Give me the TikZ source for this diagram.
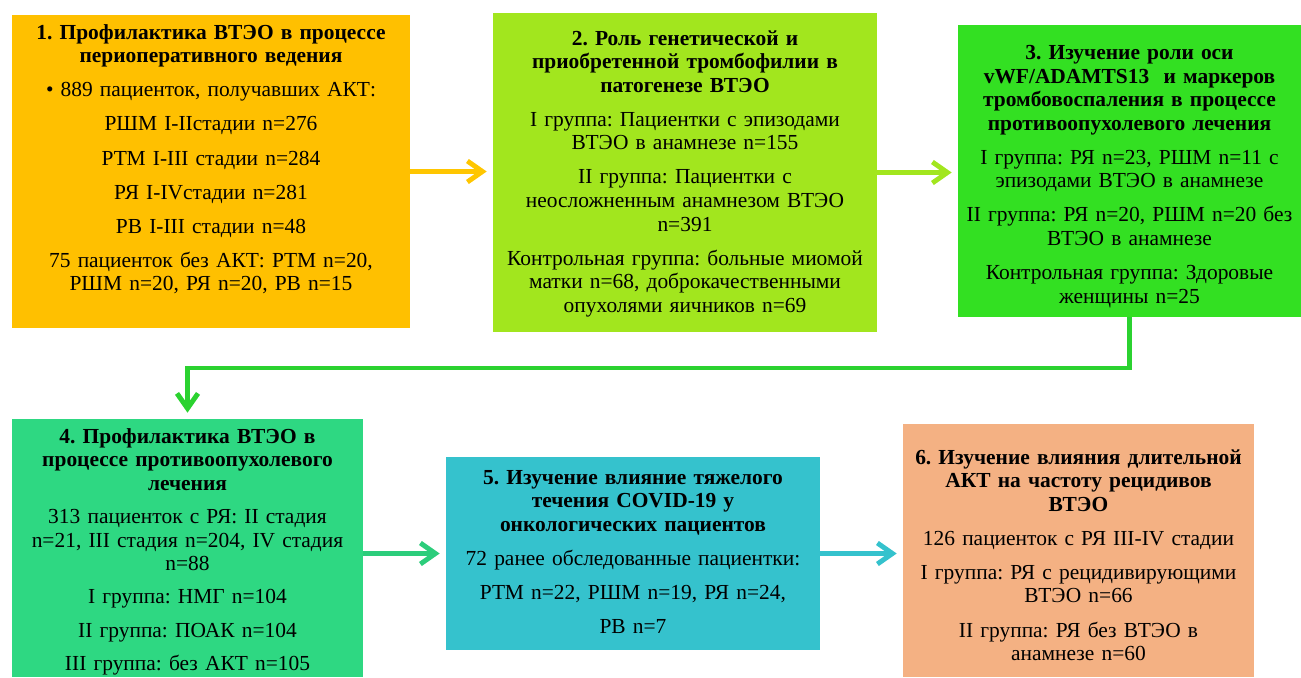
\documentclass[tikz,border=0pt]{standalone}
\usepackage{fontspec}
\setmainfont{LiberationSerif}[BoldFont={Liberation Serif Bold}]
\frenchspacing
\usetikzlibrary{arrows.meta}
\definecolor{orangeA}{HTML}{FFC000}
\definecolor{limeB}{HTML}{A2E61E}
\definecolor{greenC}{HTML}{33E022}
\definecolor{greenD}{HTML}{2ED882}
\definecolor{tealE}{HTML}{35C2CD}
\definecolor{salmonF}{HTML}{F4B183}
\begin{document}
\begin{tikzpicture}[x=0.02cm, y=-0.02cm,
  box/.style={fill=#1, inner sep=0pt},
  txt/.style={anchor=north, align=center, inner sep=0pt, font=\rmfamily\fontsize{12.2}{13.4}\selectfont},
  arr/.style={draw=#1, line width=2.8pt, -{Straight Barb[length=0.3cm, width=0.42cm]}, shorten >=0.12cm}]
\useasboundingbox (0,0) rectangle (1301,677);

% ボックス(座標で配置)
\node[box=orangeA, minimum width=7.96cm, minimum height=6.26cm] (b1) at (211,171.5)  {};
\node[box=limeB,   minimum width=7.68cm, minimum height=6.38cm] (b2) at (685,172.5)  {};
\node[box=greenC,  minimum width=6.86cm, minimum height=5.84cm] (b3) at (1129.5,171) {};
\node[box=greenD,  minimum width=7.02cm, minimum height=5.16cm] (b4) at (187.5,548)  {};
\node[box=tealE,   minimum width=7.48cm, minimum height=3.86cm] (b5) at (633,553.5)  {};
\node[box=salmonF, minimum width=7.02cm, minimum height=5.06cm] (b6) at (1078.5,550.5) {};

% テキスト
\node[txt, text width=7.8cm] (t1) at (211,24) {\textbf{1. Профилактика ВТЭО в процессе\\ периоперативного ведения}\\[6pt]
  • 889 пациенток, получавших АКТ:\\[6pt] РШМ I-IIстадии n=276\\[6pt] РТМ I-III стадии n=284\\[6pt]
  РЯ I-IVстадии n=281\\[6pt] РВ I-III стадии n=48\\[6pt] 75 пациенток без АКТ: РТМ n=20,\\ РШМ n=20, РЯ n=20, РВ n=15};
\node[txt, text width=7.5cm] (t2) at (685,30) {\textbf{2. Роль генетической и\\ приобретенной тромбофилии в\\ патогенезе ВТЭО}\\[6pt]
  I группа: Пациентки с эпизодами\\ ВТЭО в анамнезе n=155\\[6pt]
  II группа: Пациентки с\\ неосложненным анамнезом ВТЭО\\ n=391\\[6pt]
  Контрольная группа: больные миомой\\ матки n=68, доброкачественными\\ опухолями яичников n=69};
\node[txt, text width=6.7cm] (t3) at (1129.5,45) {\textbf{3. Изучение роли оси\\ vWF/ADAMTS13 \ и маркеров\\ тромбовоспаления в процессе\\ противоопухолевого лечения}\\[6pt]
  I группа: РЯ n=23, РШМ n=11 с\\ эпизодами ВТЭО в анамнезе\\[6pt]
  II группа: РЯ n=20, РШМ n=20 без\\ ВТЭО в анамнезе\\[6pt]
  Контрольная группа: Здоровые\\ женщины n=25};
\node[txt, text width=6.9cm] (t4) at (187.5,428) {\textbf{4. Профилактика ВТЭО в\\ процессе противоопухолевого\\ лечения}\\[5.5pt]
  313 пациенток с РЯ: II стадия\\ n=21, III стадия n=204, IV стадия\\ n=88\\[5.5pt]
  I группа: НМГ n=104\\[5.5pt] II группа: ПОАК n=104\\[5.5pt] III группа: без АКТ n=105};
\node[txt, text width=7.3cm] (t5) at (633,470) {\textbf{5. Изучение влияние тяжелого\\ течения COVID-19 у\\ онкологических пациентов}\\[6pt]
  72 ранее обследованные пациентки:\\[6pt] РТМ n=22, РШМ n=19, РЯ n=24,\\[6pt] РВ n=7};
\node[txt, text width=6.9cm] (t6) at (1078.5,449) {\textbf{6. Изучение влияния длительной\\ АКТ на частоту рецидивов\\ ВТЭО}\\[6pt]
  126 пациенток с РЯ III-IV стадии\\[6pt]
  I группа: РЯ с рецидивирующими\\ ВТЭО n=66\\[6pt]
  II группа: РЯ без ВТЭО в\\ анамнезе n=60};

% 矢印
\coordinate (bend) at (1129.5,368);
\draw[arr=orangeA!90!yellow] (b1.east) -- (b1.east -| b2.west);
\draw[arr=limeB]   (b2.east) -- (b2.east -| b3.west);
\draw[arr=greenC!85!teal] (b3.south) -- (bend) -| (b4.north);
\draw[arr=greenD!95!black] (b4.east |- b5.west) -- (b5.west);
\draw[arr=tealE]   (b5.east) -- (b5.east -| b6.west);
\end{tikzpicture}
\end{document}
